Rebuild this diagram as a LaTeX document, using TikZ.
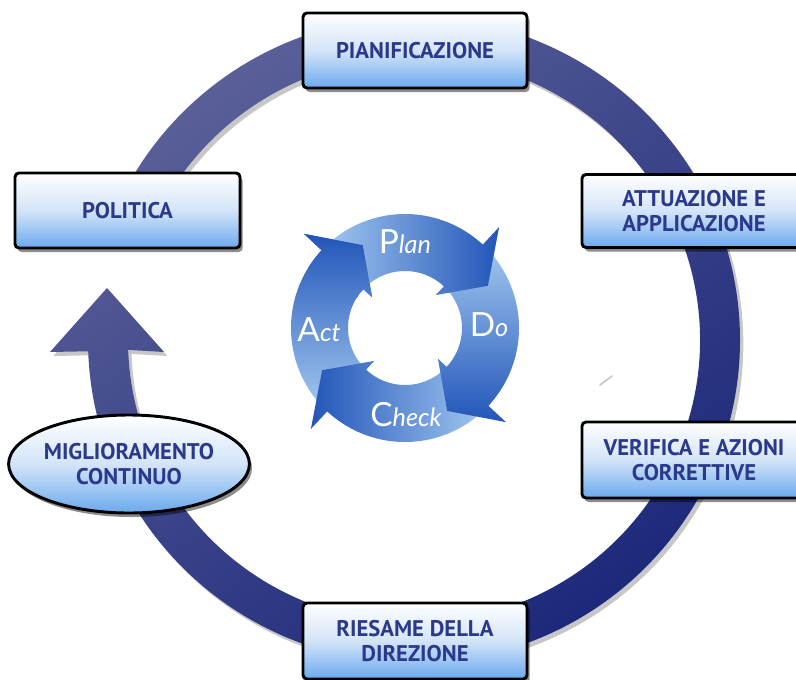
\documentclass[tikz,border=0pt]{standalone}
\usepackage{fontspec}
\newfontfamily\boxfont{PT Sans}
\newfontfamily\wheelfont{Lato}
\usetikzlibrary{shadows,shapes.geometric}
\definecolor{ringlight}{HTML}{5C6199}
\definecolor{ringdark}{HTML}{1C287A}
\definecolor{boxtext}{HTML}{2B398C}
\definecolor{boxblue}{HTML}{6AA9EE}
\definecolor{boxmid}{HTML}{D3E4F8}
\definecolor{arrlight}{HTML}{A6CCF2}
\definecolor{arrdark}{HTML}{2255B8}
\newcommand{\pdcaarrow}[2]{%
  \path[#2] ({#1+140}:114) arc[start angle={#1+140}, end angle={#1+47}, radius=114]
    -- ({#1+47}:138) -- ({#1+27}:93) -- ({#1+47}:45) -- ({#1+47}:57)
    arc[start angle={#1+47}, end angle={#1+140}, radius=57] -- cycle;}
\newcommand{\ringshape}{(182:286 and 283) -- (-250,-12) -- (-307,52) -- (-364,-12)
  -- (182:326 and 323) arc[start angle=182, end angle=518, x radius=326, y radius=323]
  -- (518:286 and 283) arc[start angle=518, end angle=182, x radius=286, y radius=283] -- cycle}
\tikzset{
  boxnode/.style={draw=black, line width=2.2pt, rounded corners=3pt,
    top color=white, bottom color=boxblue, middle color=boxmid,
    minimum width=168pt, minimum height=56.25pt, inner sep=0pt,
    font=\boxfont\bfseries\fontsize{17}{19}\selectfont, text=boxtext, align=center,
    drop shadow={shadow xshift=2pt, shadow yshift=-3pt, opacity=.45, fill=black}},
  wheellabel/.style={text=white, inner sep=0pt, font=\wheelfont}
}
\begin{document}
\begin{tikzpicture}[x=0.75pt,y=0.75pt]
\useasboundingbox (0,0) rectangle (796,-679);
\clip (0,0) rectangle (796,-679);
\fill[white] (0,0) rectangle (796,-679);
% big ring with arrow
\begin{scope}[shift={(414,-340)}]
  \fill[black, opacity=.22, xshift=2.5pt, yshift=-3pt] \ringshape;
  \shade[top color=ringlight, bottom color=ringdark, shading angle=35] \ringshape;
\end{scope}
% small mark
\draw[gray!45, line width=1.2pt, line cap=round] (600,-385) -- (612,-376);
% PDCA wheel
\begin{scope}[shift={(405,-328)}]
  \pdcaarrow{90}{bottom color=arrlight, top color=arrdark}
  \pdcaarrow{-180}{right color=arrlight, left color=arrdark}
  \pdcaarrow{-90}{top color=arrlight, bottom color=arrdark}
  \pdcaarrow{0}{left color=arrlight, right color=arrdark}
  \begin{scope}
    \clip (0,0) -- (148:170) arc[start angle=148, end angle=105, radius=170] -- cycle;
    \pdcaarrow{90}{bottom color=arrlight, top color=arrdark}
  \end{scope}
  \node[wheellabel] (plan) at (0,86) {\fontsize{25}{25}\selectfont P\fontsize{19}{19}\selectfont\itshape lan};
  \node[wheellabel] (do) at (84,3) {\fontsize{25}{25}\selectfont D\fontsize{19}{19}\selectfont\itshape o};
  \node[wheellabel] (check) at (1,-87) {\fontsize{25}{25}\selectfont C\fontsize{19}{19}\selectfont\itshape heck};
  \node[wheellabel] (act) at (-86,-2) {\fontsize{25}{25}\selectfont A\fontsize{19}{19}\selectfont\itshape ct};
\end{scope}
% boxes
\node[boxnode] (pian) at (415,-50.5) {PIANIFICAZIONE};
\node[boxnode, minimum width=168.75pt] (pol) at (127.5,-210.5) {POLITICA};
\node[boxnode, minimum height=54.75pt] (att) at (694,-211) {ATTUAZIONE E\\APPLICAZIONE};
\node[boxnode, minimum height=57pt] (ver) at (694,-460) {VERIFICA E AZIONI\\CORRETTIVE};
\node[boxnode, minimum height=57pt] (ries) at (415,-641) {RIESAME DELLA\\DIREZIONE};
\node[boxnode, ellipse, minimum width=178.5pt, minimum height=73.5pt] (mig) at (129,-464) {MIGLIORAMENTO\\CONTINUO};
\end{tikzpicture}
\end{document}
